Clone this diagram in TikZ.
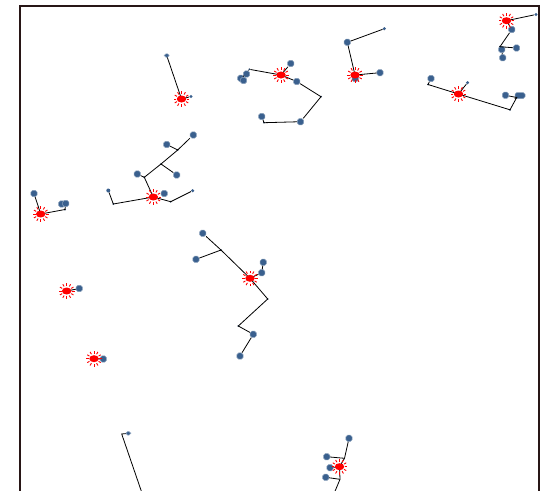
\documentclass[tikz,border=0pt]{standalone}
\usetikzlibrary{shapes.geometric}
\definecolor{nodeblue}{RGB}{58,96,142}
\definecolor{framec}{RGB}{40,22,22}
\tikzset{
  bnode/.style={rectangle, rounded corners=1.8pt, fill=nodeblue, draw=nodeblue!60, line width=0.5pt, minimum size=6.3pt, inner sep=0pt},
  snode/.style={circle, fill=nodeblue, minimum size=3.4pt, inner sep=0pt},
  jdot/.style={circle, fill=nodeblue!70!black, minimum size=2pt, inner sep=0pt},
  burst/.style={ellipse, fill=red, minimum width=9.5pt, minimum height=7pt, inner sep=0pt},
  rays/.style={draw=red, line width=0.9pt},
  link/.style={draw=black, line width=0.8pt},
}
\newcommand{\burstat}[2]{\node[burst] (#1) at (#2) {};
  \foreach \ang in {0,30,...,330}{\path[rays] (#1.center) ++(\ang:5.2pt) -- ++(\ang:2.6pt);}}
\begin{document}
\begin{tikzpicture}[x=1pt,y=-1pt]
\useasboundingbox (0,0) rectangle (543,490);
\clip (0,0) rectangle (543,490);
\fill[white] (0,0) rectangle (543,490);
\draw[framec, line width=2pt] (19.8,5.8) rectangle (538.6,520);

% ---- cluster A
\node[bnode, minimum width=5pt, minimum height=3.5pt] (a1) at (166.7,55.5) {};
\node[snode] (a2) at (191,96.5) {};
% ---- cluster B
\node[bnode] (b1) at (290.7,63.5) {};
\node[jdot] (j1) at (249.3,69.3) {};
\node[bnode] (b2) at (246.5,74) {};
\node[bnode] (b3) at (240.7,78.3) {};
\node[bnode] (b4) at (243.5,80.5) {};
\node[bnode] (b5) at (296.7,81.5) {};
\node[jdot] (j2) at (321,96.7) {};
\node[bnode] (b6) at (300.5,121.7) {};
\node[jdot] (j3) at (264,122.7) {};
\node[bnode] (b7) at (261.7,116.5) {};
% ---- cluster C
\node[bnode] (c0) at (355.3,78.5) {};
\node[bnode] (c1) at (347.3,42.3) {};
\node[snode] (c2) at (384.3,28.7) {};
\node[bnode] (c3) at (380,72.7) {};
% ---- cluster D
\node[snode] (d1) at (536,14.5) {};
\node[bnode] (d2) at (511.8,29.5) {};
\node[jdot] (j4) at (500,46.7) {};
\node[bnode] (d3) at (501.7,49.5) {};
\node[bnode] (d4) at (502.7,57.8) {};
\node[bnode] (d5) at (516.5,48) {};
% ---- cluster E
\node[snode] (e1) at (467.5,82.7) {};
\node[jdot] (j5) at (428,84.5) {};
\node[bnode] (e2) at (431,78.5) {};
\node[jdot] (j6) at (510,109.8) {};
\node[jdot] (j7) at (516.7,97.5) {};
\node[bnode] (e3) at (505.5,95.3) {};
\node[bnode, minimum width=10pt, minimum height=6pt] (e4) at (520,95.5) {};
% ---- cluster F
\node[bnode] (f1) at (34,193.5) {};
\node[jdot] (j8) at (65,209.5) {};
\node[bnode] (f3) at (61.7,204) {};
\node[bnode] (f2) at (65.7,203.5) {};
% ---- cluster G
\node[jdot] (j9) at (144.3,177.3) {};
\node[bnode] (g1) at (137.3,174) {};
\node[jdot] (j10) at (161,164) {};
\node[jdot] (j11) at (177.7,150) {};
\node[bnode] (g2) at (193.3,135) {};
\node[bnode] (g3) at (176.7,175) {};
\node[bnode] (g4) at (166.7,144.5) {};
\node[jdot] (j12) at (113.3,204) {};
\node[snode, minimum size=4pt] (g5) at (108.3,190.5) {};
\node[bnode] (g6) at (164.3,193.5) {};
\node[jdot] (j13) at (170.7,201.7) {};
\node[snode] (g7) at (192.7,190.7) {};
% ---- cluster H
\node[jdot] (j14) at (221,250) {};
\node[bnode] (h1) at (202.7,233.3) {};
\node[bnode] (h2) at (196,259.3) {};
\node[bnode] (h3) at (261.7,272.7) {};
\node[bnode] (h4) at (263.3,262.3) {};
\node[jdot] (j15) at (267.7,299) {};
\node[jdot] (j16) at (238.3,326) {};
\node[bnode] (h5) at (253.3,334.3) {};
\node[bnode] (h6) at (240,356) {};
% ---- cluster I
\node[bnode] (i1) at (79.3,288.5) {};
\node[bnode] (i2) at (103.3,359) {};
% ---- cluster K
\node[bnode, minimum width=5pt, minimum height=3.5pt] (k1) at (128.3,433.3) {};
\coordinate (j17) at (121.7,434);
\coordinate (j18) at (143,496);
% ---- cluster L
\node[bnode] (l1) at (349,438.3) {};
\coordinate (j19) at (344.5,458.3);
\node[bnode] (l2) at (326.7,456.7) {};
\node[bnode] (l3) at (330,467.7) {};
\node[bnode] (l4) at (325.7,477.3) {};
\coordinate (j20) at (340,479.3);
\coordinate (j21) at (333,496);

% ---- burst positions
\coordinate (r1c) at (181.5,99);
\coordinate (r2c) at (281,75);
\coordinate (r3c) at (355,75);
\coordinate (r4c) at (506.5,20.7);
\coordinate (r5c) at (458.5,94);
\coordinate (r6c) at (40.7,214);
\coordinate (r7c) at (153.3,197);
\coordinate (r8c) at (250,278.3);
\coordinate (r9c) at (66.7,291);
\coordinate (r10c) at (94,358.7);
\coordinate (r11c) at (339.5,466.7);

% ---- connectors
\path[link] (a1) -- (r1c) -- (a2);
\path[link] (b1) -- (r2c) -- (j1) -- (b2) -- (b3);
\path[link] (r2c) -- (b5) -- (j2.center) -- (b6) -- (j3.center) -- (b7);
\path[link] (c2) -- (c1) -- (r3c) -- (c3);
\path[link] (d1) -- (r4c) -- (d2) -- (j4.center) -- (d3) -- (d4);
\path[link] (j4.center) -- (d5);
\path[link] (e1) -- (r5c) -- (j5.center) -- (e2);
\path[link] (r5c) -- (j6.center) -- (j7.center) -- (e3);
\path[link] (j7.center) -- (e4);
\path[link] (f1) -- (r6c) -- (j8.center) -- (f2);
\path[link] (g1) -- (j9.center) -- (r7c);
\path[link] (j9.center) -- (j10.center) -- (j11.center) -- (g2);
\path[link] (j10.center) -- (g3);
\path[link] (j11.center) -- (g4);
\path[link] (g5) -- (j12.center) -- (r7c) -- (j13.center) -- (g7);
\path[link] (h1) -- (j14.center) -- (r8c) -- (h3) -- (h4);
\path[link] (j14.center) -- (h2);
\path[link] (r8c) -- (j15.center) -- (j16.center) -- (h5) -- (h6);
\path[link] (r9c) -- (i1);
\path[link] (r10c) -- (i2);
\path[link] (k1) -- (j17) -- (j18);
\path[link] (l1) -- (j19) -- (r11c) -- (j20) -- (j21);
\path[link] (l2) -- (j19);
\path[link] (l3) -- (r11c);
\path[link] (l4) -- (j20);

% ---- red bursts
\burstat{r1}{r1c}
\burstat{r2}{r2c}
\burstat{r3}{r3c}
\burstat{r4}{r4c}
\burstat{r5}{r5c}
\burstat{r6}{r6c}
\burstat{r7}{r7c}
\burstat{r8}{r8c}
\burstat{r9}{r9c}
\burstat{r10}{r10c}
\burstat{r11}{r11c}
\end{tikzpicture}
\end{document}
